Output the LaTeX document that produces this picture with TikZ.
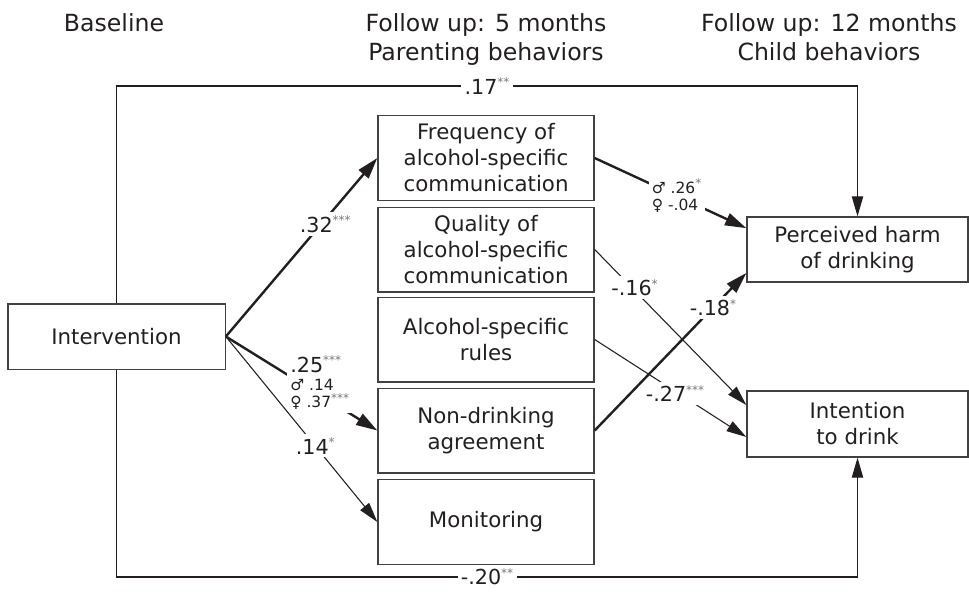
\documentclass[tikz,border=0pt]{standalone}
\usepackage{fontspec}
\setmainfont{DejaVu Sans}
\usepackage{xcolor}
\usepackage{tikz}
\usetikzlibrary{arrows.meta}
\definecolor{inkcol}{RGB}{35,31,32}
\definecolor{boxcol}{RGB}{65,65,65}
\definecolor{starcol}{RGB}{120,120,120}
\newcommand{\sig}[1]{\raisebox{0.65ex}{\fontsize{9}{9}\selectfont\color{starcol}#1}}

\begin{document}
\begin{tikzpicture}[x=0.75pt, y=-0.75pt, every node/.style={text=inkcol},
    box/.style={draw=boxcol, line width=1pt, align=center, inner sep=2pt,
      font=\fontsize{16}{19.5}\selectfont},
    head/.style={align=center, anchor=base, font=\fontsize{17.7}{21.75}\selectfont},
    coef/.style={fill=white, inner sep=2.5pt, font=\fontsize{15.5}{17}\selectfont},
    sexcoef/.style={fill=white, inner sep=2.5pt, align=left,
      font=\fontsize{11.6}{12}\selectfont},
    strong/.style={draw=inkcol, line width=1.8pt, -{Triangle[length=16pt,width=9.5pt]}},
    weak/.style={draw=inkcol, line width=0.8pt, -{Triangle[length=15pt,width=8.5pt]}}]

    \useasboundingbox (0,0) rectangle (969,593);

    %% Column headings
    \node[head] (hbase) at (114,31) {Baseline};
    \node[head] (hfive) at (486,60) {Follow up: 5 months\\Parenting behaviors};
    \node[head] (htwelve) at (829,60) {Follow up: 12 months\\Child behaviors};

    %% Baseline
    \node[box, minimum width=163pt, minimum height=49pt] (int) at (116.5,336.5) {Intervention};

    %% Parenting behaviors (5 months)
    \node[box, minimum width=162pt, minimum height=63.5pt] (freq) at (486,158)
      {Frequency of\\alcohol-specific\\communication};
    \node[box, minimum width=162pt, minimum height=63.5pt] (qual) at (486,249.5)
      {Quality of\\alcohol-specific\\communication};
    \node[box, minimum width=162pt, minimum height=63.5pt] (rules) at (486,339.5)
      {Alcohol-specific\\rules};
    \node[box, minimum width=162pt, minimum height=63.5pt] (nondrink) at (486,430.5)
      {Non-drinking\\agreement};
    \node[box, minimum width=162pt, minimum height=64pt] (monit) at (486,522)
      {Monitoring};

    %% Child behaviors (12 months)
    \node[box, minimum width=165.75pt, minimum height=48.75pt] (harm) at (857.5,249.5)
      {Perceived harm\\of drinking};
    \node[box, minimum width=165.75pt, minimum height=49.5pt] (intent) at (857.5,424)
      {Intention\\to drink};

    %% Direct paths over the top and under the bottom
    \coordinate (topline) at (0,86);
    \coordinate (botline) at (0,577);
    \draw[weak] (int.north) -- (int.north |- topline)
      -- node[coef] (c17) {.17\sig{**}} (harm.north |- topline) -- (harm.north);
    \draw[weak] (int.south) -- (int.south |- botline)
      -- node[coef] (c20) {-.20\sig{**}} (intent.south |- botline) -- (intent.south);

    %% Intervention -> parenting
    \draw[strong] (int.east) -- node[coef, pos=0.63, xshift=3pt] (c32) {.32\sig{***}} (freq.west);
    \draw[strong] (int.east) -- node[sexcoef, pos=0.62, yshift=9pt] (c25)
      {{\fontsize{15.5}{14}\selectfont .25\sig{***}}\\[1.5pt]♂ .14\\[1pt]♀ .37\sig{***}} (nondrink.west);
    \draw[weak] (int.east) -- node[coef, pos=0.59] (c14) {.14\sig{*}} (monit.west);

    %% Parenting -> child
    \draw[strong] (freq.east) -- node[sexcoef, pos=0.54] (c26)
      {♂ .26\sig{*}\\[1pt]♀ -.04} ([yshift=16pt]harm.west);
    \draw[weak] (qual.east) -- node[coef, pos=0.245, xshift=2pt] (c16) {-.16\sig{*}}
      ([yshift=14.25pt]intent.west);
    \draw[weak] (rules.east) -- node[coef, pos=0.53, yshift=-2pt] (c27) {-.27\sig{***}}
      ([yshift=-9.75pt]intent.west);
    \draw[strong] (nondrink.east) -- node[coef, pos=0.78] (c18) {-.18\sig{*}}
      ([yshift=-17.6pt]harm.west);

\end{tikzpicture}
\end{document}
